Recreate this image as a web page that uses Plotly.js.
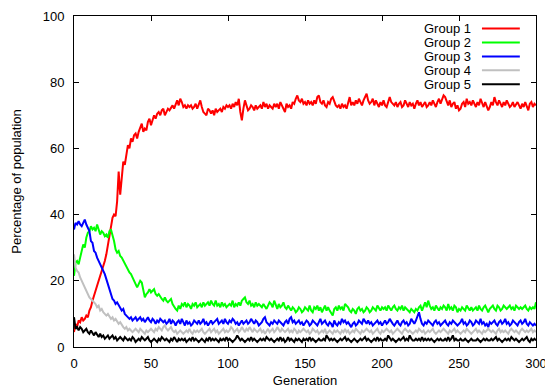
<!DOCTYPE html>
<html>
<head>
<meta charset="utf-8">
<script src="https://cdn.plot.ly/plotly-3.0.1.min.js"></script>
<style>html,body{margin:0;padding:0;background:#fff;}#chart{width:545px;height:391px;}</style>
</head>
<body>
<div id="chart"></div>
<script>
var seriesNames = ["Group 1", "Group 2", "Group 3", "Group 4", "Group 5"];
var seriesColors = ["#ff0000", "#00ff00", "#0000ff", "#c0c0c0", "#000000"];
var xTickVals = [0, 50, 100, 150, 200, 250, 300];
var yTickVals = [0, 20, 40, 60, 80, 100];

var group1 = [
4.5,7,6,8,7.5,9,8,8.5,9.5,9,11,
12,14,16,17,18.5,20,21,23,24.5,26,
28,31,34,37,39,40,39.5,44,53,46,
52,56,55,58,61,60,63,62,64,64.5,
63,65,66,67.5,65,66,65.5,68,69,67,
68.5,70,69,70.5,71,70,71.5,72,70,71,
72,71.5,72.5,73,72,73.5,74.5,73,75,74,
72.5,73,72,73,72.5,73,72,72.5,73.5,72,
73,74.5,72.5,71,70.5,70,72,71.5,70.5,71.5,
70,72,71,71.5,72,71,72.5,72,73,72.5,
73,72,73.5,72.5,74,73,75,71,68.5,72,
74.5,73,71.5,72,73,72.5,71.5,73,72,72.5,
73,72,74,72.5,73.5,72,73,72.5,72,73.5,
72.5,73.5,72,74,73,71.5,71,73.5,72.5,73,
72,74,73.5,75,76,74.5,74,75,73.5,74,
73,74.5,73.5,74,73,74.5,73.5,75.5,76,74,
73.5,74.5,73,72.5,74,73.5,75,75.5,74,73,
72.5,73,72,73.5,72.5,73,72,73.5,75.5,73,
74,73,74.5,73.5,75,74,73,74.5,75.5,76.5,
74.5,73.5,74,75,73,74.5,73.5,72.5,74,73,
74.5,73,72.5,74,75.5,74,73.5,73,74,72.5,
73.5,74,72.5,73,74.5,73.5,72.5,74,73,73.5,
72,73.5,74.5,73,74,72.5,73.5,74,72.5,73,
74,73,74.5,73.5,72.5,74,75,73.5,74.5,76,
75.5,74,73,74.5,72.5,73.5,74,72,73,71.5,
72,73.5,74,72.5,75,73.5,74,73,74.5,73.5,
72.5,74,73,75,73.5,72.5,74,73,71.5,72.5,
74,73,75.5,74,73,74.5,73.5,72.5,74,73,
74.5,73.5,72.5,73,74,72.5,73.5,74,73,72,
73.5,72.5,74,73,71.5,73.5,74,72.5,73.5,73
];
var group2 = [
21.5,25.5,26,25,27,29,31,30,33,34.5,35,
36.5,35.5,36,35,37,35.5,34,35,34.5,33.5,
34,33,35,35.5,34,32,29.5,28.5,29,27.5,
27,26,25,24.5,23,22.5,22,21,20,19.5,
18,19,20,19.5,17,15,16,16.5,17.5,16.5,
17,17.5,16,15.5,16,15,14.5,14,15,14,
13.5,14,14.5,13,12,11.5,11,12.5,11.5,13,
12.5,13.5,12,13,12.5,11.5,13,12.5,13.5,12,
12.5,13,12,13.5,12.5,13,13.5,12.5,14,13,
12.5,14,12.5,13,12,13.5,12.5,13,12,12.5,
13,12.5,14,12,13,12.5,13.5,12.5,14,14.5,
15,13.5,13,14,12.5,13,12,13.5,12.5,13,
12.5,12,13,12,11.5,12.5,13.5,13,12,14,
12.5,11.5,13,12,12.5,13.5,12,11.5,12.5,11.5,
11,12,11.5,10.5,11,12,11.5,10.5,11,12,
11.5,11,12.5,11,10.5,12,11.5,12.5,11,12,
10.5,11.5,12.5,11,12,11,10,9.5,11.5,12,
11,12.5,11.5,12,11,13,12.5,12,11,10.5,
11.5,11,10,11.5,12,11,11.5,10.5,11,12,
11.5,10.5,11,12,11.5,11,12.5,11.5,11,12,
11.5,12,11,12.5,11.5,11,12,12.5,11.5,11,
12,11.5,12.5,11,12,11.5,11,10.5,11.5,11,
10.5,11.5,11,12,12.5,11,12,13.5,12,14,
12.5,11.5,12,11,12.5,11.5,11,12,11.5,12.5,
12,11,13,11.5,12,11,12.5,12,10.5,11.5,
11,12,11.5,11,12.5,11.5,11,12,11,11.5,
12,11,12.5,11.5,11,12,12.5,11.5,10.5,11.5,
12,12.5,11.5,11,12.5,12,11,11.5,12.5,12,
11.5,12,12.5,11.5,12,11,12.5,12,11.5,12,
11.5,12,12.5,11.5,11,12,11.5,12,11.5,13.5
];
var group3 = [
35.5,37.5,37,38,37,36.5,37.5,38.5,37,36,35,
32,31.5,29,28.5,27,26,25.5,24,23.5,22,
20.5,19,17,15.5,14.5,14,13,13.5,12.5,12,
11,11.5,10,9.5,9,8.5,9,8,8.5,9,
8,8.5,9,8,8.5,7.5,8.5,9,8,7.5,
8.5,8,7,8,7.5,8.5,8,7.5,8,7,
7.5,8.5,7,8,7.5,6.5,7.5,8,7,8.5,
7.5,6.5,8,7,7.5,6.5,7,8,7.5,7,
8,7,7.5,8.5,7,7.5,6.5,7.5,8,7,
7.5,8,8.5,7,7.5,8,7,8.5,7.5,7,
8,7.5,8.5,8,7,7.5,6.5,7.5,8,7,
7.5,8,7,7.5,8.5,7.5,7,8,7.5,6.5,
7,7.5,8.5,9,7.5,7,6.5,7.5,7,8,
7.5,7,8,7.5,7,6.5,7.5,8,7,8.5,
9,7.5,8,7,7.5,8,7,7.5,6.5,7.5,
8,7.5,6.5,7,8,7.5,7,6.5,7.5,8.5,
7,7.5,8,7,6.5,7.5,7,6,8,7,
6.5,7.5,7,8.5,7.5,8,7,7.5,6.5,6,
7,7.5,6.5,7,8,7.5,7,8.5,7.5,7,
8,7,7.5,6.5,7,7.5,8,7,7.5,6.5,
7.5,8,7,7.5,8.5,7.5,7,6.5,7.5,8,
7,6.5,7.5,8,7,7.5,6.5,7,8.5,7.5,
7,8,9,10.5,8.5,7,6.5,7.5,7,8,
7.5,7,6.5,7.5,8,7,7.5,6.5,7,7.5,
8,7,6.5,7.5,7,8,7.5,7,6.5,7,
7.5,8.5,7,7.5,6.5,7,8,7.5,6.5,7,
8,7.5,7,8.5,7,7.5,6.5,7,6,7.5,
7,7.5,8,7,6.5,7.5,8,7,7.5,8.5,
7,7.5,6.5,7,8,7.5,7,6.5,7.5,8,
7,7.5,8.5,7,6.5,7.5,7,6.5,7,6.5
];
var group4 = [
28,24,23,22.5,21,20,19,17.5,16.5,16,15,
14.5,14,13.5,13,12,12.5,11,11.5,10.5,10,
9.5,10,9,8.5,9,8,8.5,7.5,7,7.5,
6.5,6,5.5,6,5,5.5,5,4.5,5,5.5,
5,4.5,5.5,5,4.5,4,5,4.5,5,5.5,
5,4.5,5.5,5,6,5.5,5,6,6.5,5.5,
5,5.5,6,5,4.5,5,4,4.5,5,4.5,
4,4.5,5,4.5,5.5,4.5,4,5,4.5,5,
4.5,5,5.5,4.5,4,4.5,5,5.5,4.5,5,
5.5,4.5,5,4,4.5,5,5.5,4.5,5,4.5,
5,6,5.5,4.5,5,5.5,4.5,5,6,5,
4.5,5.5,5,6,5,4.5,5.5,5,4.5,5,
5.5,4.5,5,4,5,5.5,4.5,5,5.5,4.5,
5,6,5,4.5,5.5,5,4.5,5,5.5,4.5,
5,4.5,5.5,5,4,5,4.5,5,5.5,5,
4.5,5,4,4.5,5.5,5,4.5,5,4,4.5,
5,4.5,5.5,4,4.5,5,4.5,4,5,4.5,
5,4.5,4,5,4.5,5.5,4.5,5,4,4.5,
5,4.5,5.5,5,4.5,4,5,4.5,5,5.5,
5,4.5,5,4,4.5,5,5.5,4.5,4,5,
4.5,5,5.5,5,4.5,5,4,4.5,5,5.5,
5,4.5,4,5,5.5,5,4.5,5,4.5,4,
4.5,5,4.5,5.5,5,4.5,5,4,4.5,5,
4.5,5,5.5,4.5,4,4.5,5,4.5,5,5.5,
5,4.5,4,5,4.5,5,5.5,4.5,5,4.5,
4,4.5,5,4.5,5.5,5,4.5,4,4.5,5,
5.5,4.5,5,4.5,4,5,4.5,5,5.5,5,
4.5,5,4.5,4,5,5.5,4.5,5,4.5,5,
4.5,4,5,5.5,5,4.5,5,4.5,4,5,
5.5,5,4.5,5,4.5,5,5.5,4.5,5,4.5
];
var group5 = [
9,5.5,6,5,6,5.5,4.5,5,5.5,4.5,4,
5,4,3.5,4.5,3.5,3,4,3,3.5,2.5,
3,3.5,2.5,3,3.5,2.5,3,2,2.5,3,
2.5,2,3,2.5,2,2.5,2,3,2.5,1.5,
2,2.5,2,3,2.5,2,2.5,3,2,1.5,
2,2.5,2,1.5,2.5,2,3,2.5,2,2.5,
2,1.5,2.5,2,3,2,1.5,2.5,2,2.5,
2,2.5,1.5,2,2.5,2,3,2,2.5,2,
1.5,2,2.5,2,1.5,2.5,2,3,2,2.5,
2,2.5,2,1.5,2.5,2,2.5,2,3,2,
2.5,2,1.5,2,2.5,3.5,2.5,2,2.5,2,
1.5,2,2.5,2,3,2,2.5,2,1.5,2,
2.5,2,2.5,2,3,2.5,2,2.5,2,1.5,
2,2.5,2,3,2,2.5,1.5,2,3,2,
2.5,2,1.5,2.5,2,2.5,2,1.5,2.5,2,
2.5,2,3,2,2.5,2,1.5,2,2.5,2,
2,2.5,2,3.5,2.5,2,2.5,2,2.5,2,
1.5,2,2.5,2,2.5,3,2,2.5,2,1.5,
2,2.5,2,1.5,2,2.5,2,2.5,3,2,
2.5,2,1.5,2,2.5,2,3,2,2.5,2,
2,2.5,2,3.5,2.5,2,2.5,2,1.5,2,
2.5,2,2.5,3,2,2.5,2,3.5,2.5,2,
2,2.5,2,2.5,2,3,2,2.5,2,2.5,
2,2.5,2,1.5,2,2.5,2,2.5,2,2,
2.5,2,3,2,2.5,3.5,2,2.5,2,2,
2.5,2,2,2.5,2,1.5,2,2.5,2,2,
2,2.5,2,1.5,2,2.5,2,2.5,2,2,
2.5,2,2.5,3,2,2.5,2,1.5,2,2.5,
2,2.5,2,3,2.5,2,2.5,2,1.5,2,
2.5,2,2.5,3,2,1.5,2.5,2,2.5,2
];

var allSeries = [group1, group2, group3, group4, group5];
var generations = [];
for (var g = 0; g < group1.length; g++) generations.push(g);

var FONT = "Liberation Sans, Arial, sans-serif";
var FS = 13;
var traces = allSeries.map(function (vals, i) {
  return {
    x: generations, y: vals, type: "scatter", mode: "lines",
    name: seriesNames[i], line: {color: seriesColors[i], width: 2},
    showlegend: false, hoverinfo: "skip"
  };
});

// gnuplot-style key: right-aligned labels with line samples to their right
var annotations = [], shapes = [];
var rowTop = 0.962, rowStep = 0.042;
seriesNames.forEach(function (nm, i) {
  var yy = rowTop - i * rowStep;
  annotations.push({
    xref: "paper", yref: "paper", x: 0.8615, y: yy, text: nm, showarrow: false,
    xanchor: "right", yanchor: "middle", borderpad: 0,
    font: {family: FONT, size: FS, color: "#000"}
  });
  shapes.push({
    type: "line", xref: "paper", yref: "paper", x0: 0.883, x1: 0.965, y0: yy, y1: yy,
    line: {color: seriesColors[i], width: 2}
  });
});

var axisCommon = {
  showline: true, linecolor: "#000", linewidth: 1, mirror: "ticks",
  ticks: "inside", ticklen: 5, tickcolor: "#000", tickwidth: 1,
  showgrid: false, zeroline: false, ticklabeloverflow: "allow",
  tickfont: {family: FONT, size: FS, color: "#000"}
};

var layout = {
  width: 545, height: 391,
  margin: {l: 74, r: 9, t: 16, b: 44, pad: 0},
  paper_bgcolor: "#fff", plot_bgcolor: "#fff",
  showlegend: false,
  xaxis: Object.assign({}, axisCommon, {
    range: [0, 300], tickvals: xTickVals, ticktext: xTickVals.map(String),
    ticklabelstandoff: 4,
    title: {text: "Generation", font: {family: FONT, size: FS, color: "#000"}, standoff: 6}
  }),
  yaxis: Object.assign({}, axisCommon, {
    range: [0, 100], tickvals: yTickVals, ticktext: yTickVals.map(String),
    ticklabelstandoff: 6,
    title: {text: "Percentage of population", font: {family: FONT, size: FS, color: "#000"}, standoff: 18}
  }),
  annotations: annotations,
  shapes: shapes
};

Plotly.newPlot("chart", traces, layout, {displayModeBar: false, staticPlot: true});
</script>
</body>
</html>
